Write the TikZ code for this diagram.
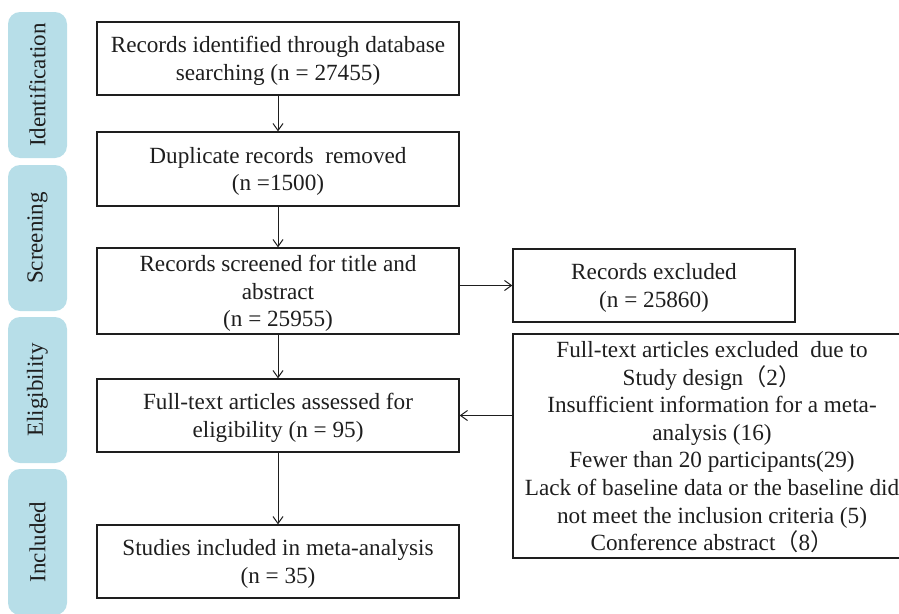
\documentclass[tikz,border=0pt]{standalone}
\usepackage{fontspec}
\setmainfont{Liberation Serif}
\newfontfamily\cjk{Noto Sans CJK SC}
\usetikzlibrary{arrows.meta}
\definecolor{barblue}{HTML}{B7DEE8}
\definecolor{ink}{HTML}{1E1E1E}
\begin{document}
\begin{tikzpicture}[x=1pt,y=-1pt,
  box/.style={draw=ink, line width=1.3pt, align=center, inner sep=0pt, text=ink,
    text depth=-3pt, font=\fontsize{23.2}{27.6}\selectfont},
  phase/.style={fill=barblue, rounded corners=12pt, inner sep=0pt, text=ink,
    minimum width=146pt, minimum height=59pt, rotate=90,
    font=\fontsize{23}{25}\selectfont},
  arr/.style={draw=ink, -{Straight Barb[length=7pt,width=10pt]}, line width=1pt}]
\useasboundingbox (0,0) rectangle (899,613);

% phase bars
\node[phase] (p1) at (37.5,85) {Identification};
\node[phase] (p2) at (37.5,238) {Screening};
\node[phase] (p3) at (37.5,390) {Eligibility};
\node[phase] (p4) at (37.5,542) {Included};

% main column
\node[box, minimum width=362pt, minimum height=73pt] (b1) at (278,58.5)
  {Records identified through database\\searching (n = 27455)};
\node[box, minimum width=362pt, minimum height=74pt] (b2) at (278,169)
  {Duplicate records\ \ removed\\(n =1500)};
\node[box, minimum width=362pt, minimum height=86pt] (b3) at (278,291)
  {Records screened for title and\\abstract\\(n = 25955)};
\node[box, minimum width=362pt, minimum height=73pt] (b5) at (278,415.5)
  {Full-text articles assessed for\\eligibility (n = 95)};
\node[box, minimum width=362pt, minimum height=73pt] (b7) at (278,561.5)
  {Studies included in meta-analysis\\(n = 35)};

% side boxes
\node[box, minimum width=282pt, minimum height=73pt] (rex) at (654,285.5)
  {Records excluded\\(n = 25860)};
\node[box, minimum width=398pt, minimum height=224pt] (ftx) at (712,446)
  {Full-text articles excluded\ \ due to\\
   Study design{\cjk（}2{\cjk）}\\
   Insufficient information for a meta-\\
   analysis (16)\\
   Fewer than 20 participants(29)\\
   Lack of baseline data or the baseline did\\
   not meet the inclusion criteria (5)\\
   Conference abstract{\cjk（}8{\cjk）}};

% connectors
\draw[arr] (b1.south) -- (b2.north);
\draw[arr] (b2.south) -- (b3.north);
\draw[arr] (b3.south) -- (b5.north);
\draw[arr] (b5.south) -- (b7.north);
\draw[arr] (b3.east |- rex.west) -- (rex.west);
\draw[arr] (ftx.west |- b5.east) -- (b5.east);
\end{tikzpicture}
\end{document}
